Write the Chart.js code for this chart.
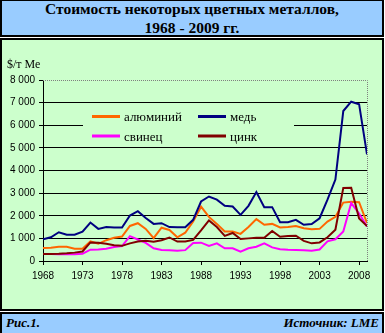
<!DOCTYPE html>
<html>
<head>
<meta charset="utf-8">
<script src="https://cdn.jsdelivr.net/npm/chart.js@4.4.0/dist/chart.umd.min.js"></script>
<style>
  html, body { margin: 0; padding: 0; background: #fff; }
  body { width: 385px; height: 333px; position: relative; overflow: hidden; font-family: "Liberation Serif", serif; color: #000; }
  .box { position: absolute; left: 0; width: 384px; box-sizing: border-box; border: 2px solid #000; }
  #head { top: 0; height: 37px; background: #99ccff; border-top-width: 1px; }
  #panel { top: 38px; height: 273px; background: #ccffcc; }
  #foot { top: 312px; height: 21px; background: #99ccff; border-bottom: none; }
  .txt { position: absolute; white-space: nowrap; font-weight: bold; }
  .title { left: 0; width: 384px; text-align: center; font-size: 15.5px; line-height: 15.5px; }
  .note { font-style: italic; font-size: 13px; line-height: 13px; top: 316px; }
  #chart { position: absolute; left: 0; top: 0; }
</style>
</head>
<body>
<div class="box" id="head"></div>
<div class="box" id="panel"></div>
<div class="box" id="foot"></div>
<div class="txt title" style="top:1px">Стоимость некоторых цветных металлов,</div>
<div class="txt title" style="top:20px">1968 - 2009 гг.</div>
<div class="txt note" style="left:6px">Рис.1.</div>
<div class="txt note" style="right:6px">Источник: LME</div>
<canvas id="chart" width="385" height="333"></canvas>
<script>
// годы и цены, $/т
const years = [1968, 1969, 1970, 1971, 1972, 1973, 1974, 1975, 1976, 1977,
  1978, 1979, 1980, 1981, 1982, 1983, 1984, 1985, 1986, 1987,
  1988, 1989, 1990, 1991, 1992, 1993, 1994, 1995, 1996, 1997,
  1998, 1999, 2000, 2001, 2002, 2003, 2004, 2005, 2006, 2007,
  2008, 2009]
const aluminium = [580, 590, 630, 630, 540, 540, 870, 760, 920, 1030,
  1080, 1550, 1670, 1420, 1010, 1470, 1370, 1050, 1250, 1750,
  2400, 1950, 1640, 1300, 1300, 1200, 1500, 1850, 1600, 1640,
  1480, 1500, 1550, 1450, 1400, 1420, 1740, 1950, 2580, 2620,
  2600, 1680]
const copper = [960, 1050, 1270, 1160, 1160, 1300, 1700, 1420, 1500, 1480,
  1480, 2010, 2200, 1900, 1640, 1670, 1500, 1495, 1495, 1820,
  2630, 2850, 2710, 2440, 2410, 2040, 2440, 3050, 2380, 2380,
  1710, 1710, 1820, 1600, 1630, 1890, 2710, 3600, 6630, 7040,
  6930, 4710]
const lead = [310, 310, 300, 300, 300, 320, 500, 510, 540, 620,
  660, 1100, 950, 800, 560, 490, 470, 450, 480, 800,
  810, 670, 780, 560, 560, 410, 560, 630, 780, 600,
  520, 500, 490, 470, 450, 510, 870, 960, 1300, 2560,
  2100, 1530]
const zinc = [310, 310, 320, 340, 370, 420, 820, 810, 760, 700,
  670, 780, 860, 900, 850, 920, 1040, 860, 860, 930,
  1350, 1790, 1500, 1110, 1240, 970, 1000, 1030, 1030, 1330,
  1070, 1100, 1120, 890, 780, 820, 1050, 1380, 3230, 3240,
  1880, 1540]
const yearTicks = [1968, 1973, 1978, 1983, 1988, 1993, 1998, 2003, 2008]
const priceTicks = [0, 1000, 2000, 3000, 4000, 5000, 6000, 7000, 8000]

function points(values) {
  return values.map((v, i) => ({ x: years[i], y: v }))
}

const serif = 'Liberation Serif'
const sans = 'Liberation Sans'

// рамка области построения, легенда и подпись оси
const decor = {
  id: 'decor',
  beforeDatasetsDraw(chart) {
    const ctx = chart.ctx
    const a = chart.chartArea
    ctx.save()
    ctx.strokeStyle = '#808080'
    ctx.lineWidth = 1
    ctx.setLineDash([1, 1])
    ctx.beginPath()
    ctx.moveTo(a.left, Math.round(a.top) + 0.5)
    ctx.lineTo(Math.round(a.right) + 0.5, Math.round(a.top) + 0.5)
    ctx.lineTo(Math.round(a.right) + 0.5, a.bottom)
    ctx.stroke()
    ctx.setLineDash([])

    ctx.fillStyle = '#ccffcc'
    ctx.fillRect(83, 106, 211, 40)
    const slots = [[92, 116.5], [198, 116.5], [92, 136], [198, 136]]
    ctx.font = '13px "' + serif + '"'
    ctx.textBaseline = 'alphabetic'
    chart.data.datasets.forEach((ds, i) => {
      const [x, y] = slots[i]
      ctx.strokeStyle = ds.borderColor
      ctx.lineWidth = 3
      ctx.beginPath()
      ctx.moveTo(x, y)
      ctx.lineTo(x + 28, y)
      ctx.stroke()
      ctx.fillStyle = '#000'
      ctx.fillText(ds.label, x + 32, y + 4.5)
    })

    ctx.font = '12px "' + serif + '"'
    ctx.fillText('$/т Ме', 7, 68)
    ctx.restore()
  }
}

new Chart(document.getElementById('chart'), {
  type: 'line',
  data: {
    datasets: [
      { label: 'алюминий', data: points(aluminium), borderColor: '#ff6600', order: 4 },
      { label: 'медь', data: points(copper), borderColor: '#000080', order: 3 },
      { label: 'свинец', data: points(lead), borderColor: '#ff00ff', order: 2 },
      { label: 'цинк', data: points(zinc), borderColor: '#800000', order: 1 }
    ]
  },
  options: {
    responsive: false,
    animation: false,
    devicePixelRatio: 1,
    layout: { padding: { left: 0, right: 18, top: 80, bottom: 0 } },
    plugins: { legend: { display: false }, tooltip: { enabled: false } },
    elements: {
      point: { radius: 0 },
      line: { borderWidth: 2, tension: 0, fill: false }
    },
    scales: {
      x: {
        type: 'linear',
        min: 1968,
        max: 2009,
        afterBuildTicks: s => { s.ticks = yearTicks.map(v => ({ value: v })) },
        afterFit: s => { s.height = 72 },
        grid: { drawOnChartArea: false, tickLength: 4, tickColor: '#000' },
        border: { color: '#000' },
        ticks: {
          color: '#000',
          font: { family: sans, size: 10 },
          padding: 5,
          maxRotation: 0,
          callback: v => String(v)
        }
      },
      y: {
        min: 0,
        max: 8000,
        afterBuildTicks: s => { s.ticks = priceTicks.map(v => ({ value: v })) },
        afterFit: s => { s.width = 43 },
        grid: {
          color: c => (c.tick && c.tick.value === 8000) ? 'rgba(0,0,0,0)' : '#000',
          tickLength: 4,
          tickColor: '#000'
        },
        border: { color: '#000' },
        ticks: {
          color: '#000',
          font: { family: sans, size: 10 },
          padding: 4,
          callback: v => v === 0 ? '0' : (v / 1000) + ' 000'
        }
      }
    }
  },
  plugins: [decor]
})
</script>
</body>
</html>
